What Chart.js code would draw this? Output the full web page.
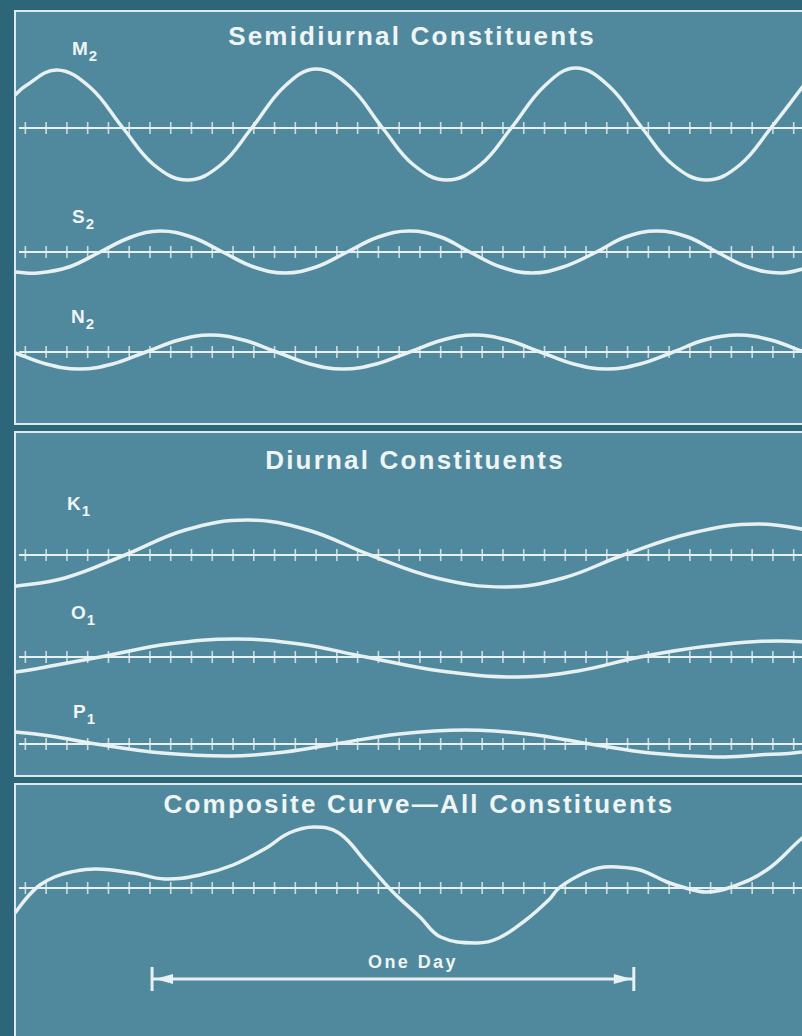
<!DOCTYPE html>
<html>
<head>
<meta charset="utf-8">
<script src="https://cdn.jsdelivr.net/npm/chart.js@4.4.1/dist/chart.umd.min.js"></script>
<style>
  body { margin: 0; width: 802px; height: 1036px; overflow: hidden; background: #2d6678; position: relative;
         font-family: "Liberation Sans", Arial, Helvetica, sans-serif; color: #eef5f4; }
  .panel { position: absolute; left: 14px; width: 830px; box-sizing: border-box; border: 2px solid #dde9ea; background: #50899d; }
  .box { position: absolute; left: 15px; width: 787px; }
  .title { position: absolute; font-weight: bold; font-size: 26px; line-height: 26px; letter-spacing: 2.2px;
           white-space: nowrap; transform: translateX(-50%); }
  .lab { position: absolute; font-weight: bold; font-size: 19px; line-height: 19px; white-space: nowrap; }
  .lab span { font-size: 15px; position: relative; top: 6px; margin-left: 1px; }
</style>
</head>
<body>
<div class="panel" style="top:10px;height:415px"></div>
<div class="panel" style="top:431px;height:346px"></div>
<div class="panel" style="top:783px;height:255px"></div>

<div class="title" style="left:412px;top:23px">Semidiurnal Constituents</div>
<div class="title" style="left:415px;top:447px">Diurnal Constituents</div>
<div class="title" style="left:419px;top:791px">Composite Curve—All Constituents</div>
<div class="title" style="left:413px;top:953px;font-size:18px;line-height:18px;letter-spacing:2.4px">One Day</div>

<div class="lab" style="left:72px;top:39px">M<span>2</span></div>
<div class="lab" style="left:72px;top:207px">S<span>2</span></div>
<div class="lab" style="left:71px;top:307px">N<span>2</span></div>
<div class="lab" style="left:67px;top:494px">K<span>1</span></div>
<div class="lab" style="left:71px;top:603px">O<span>1</span></div>
<div class="lab" style="left:73px;top:702px">P<span>1</span></div>

<div class="box" style="top:53px;height:150px"><canvas id="m2"></canvas></div>
<div class="box" style="top:177px;height:150px"><canvas id="s2"></canvas></div>
<div class="box" style="top:277px;height:150px"><canvas id="n2"></canvas></div>
<div class="box" style="top:480px;height:150px"><canvas id="k1"></canvas></div>
<div class="box" style="top:582px;height:150px"><canvas id="o1"></canvas></div>
<div class="box" style="top:669px;height:150px"><canvas id="p1"></canvas></div>
<div class="box" style="top:813px;height:185px"><canvas id="all"></canvas></div>

<script>
// time in hours, height in cm
const m2Hours = [-0.5, 0.0, 1.5, 3.1, 4.7, 6.2, 7.8, 9.4, 10.9, 12.5, 14.0, 15.6, 17.2, 18.7, 20.3, 21.9, 23.4, 25.0, 26.5, 28.1, 29.7, 31.2, 32.8, 34.4, 35.9, 37.5];
const m2Height = [33, 42, 58, 41, 0, -37, -52, -37, 0, 42, 59, 42, 0, -37, -52, -37, 0, 42, 60, 42, 0, -37, -52, -37, 0, 43];

const s2Hours = [-0.5, 0.6, 2.1, 3.6, 5.1, 6.5, 8.0, 9.5, 11.0, 12.5, 14.0, 15.5, 17.0, 18.5, 20.0, 21.4, 22.9, 24.4, 25.9, 27.5, 28.9, 30.4, 31.9, 33.3, 34.8, 36.4, 37.8];
const s2Height = [-20, -21, -15, 0, 15, 21, 15, 0, -15, -21, -15, 0, 15, 21, 15, 0, -15, -21, -15, 0, 15, 21, 15, 0, -15, -21, -15];

const n2Hours = [-0.6, 1.0, 2.6, 4.2, 5.8, 7.4, 8.9, 10.5, 12.1, 13.7, 15.3, 16.9, 18.5, 20.1, 21.6, 23.2, 24.8, 26.4, 28.0, 29.6, 31.2, 32.7, 34.3, 35.9, 37.5];
const n2Height = [0, -12, -17, -12, 0, 12, 17, 12, 0, -12, -17, -12, 0, 12, 17, 12, 0, -12, -17, -12, 0, 12, 17, 12, 0];

const k1Hours = [-0.7, 1.9, 4.8, 7.7, 10.7, 13.6, 16.6, 19.8, 23.1, 25.9, 28.8, 32.1, 35.3, 38.5];
const k1Height = [-32, -23, 0, 25, 35, 25, 0, -23, -32, -23, 0, 22, 31, 22];

const o1Hours = [-2.9, -0.5, 1.5, 3.6, 6.9, 10.1, 13.2, 16.4, 20.0, 23.7, 26.6, 29.6, 32.9, 36.3, 39.7];
const o1Height = [-19, -15, -8, 0, 13, 18, 13, 0, -14, -20, -14, 0, 11, 16, 11];

const p1Hours = [-1.7, -0.5, 1.2, 3.4, 6.6, 9.9, 12.5, 14.9, 18.0, 21.2, 24.2, 27.2, 30.1, 33.2, 35.3, 37.4, 39.2];
const p1Height = [13, 12, 8, 0, -9, -12, -8, 0, 10, 14, 10, 0, -9, -13, -11, -8, 0];

const allHours = [-0.5, 0.1, 0.7, 1.4, 2.2, 3.4, 5.2, 6.7, 8.4, 10.0, 11.6, 12.7, 13.9, 15.1, 16.4, 17.7, 19.0, 20.0, 21.7, 22.8, 24.1, 25.2, 25.7, 26.7, 27.6, 28.5, 29.6, 30.9, 31.8, 32.8, 34.0, 35.7, 37.3, 38.0];
const allHeight = [-25, -9, 3, 11, 16, 19, 15, 9, 13, 23, 40, 55, 61, 55, 26, -4, -29, -49, -55, -50, -32, -12, 0, 13, 20, 21, 18, 6, 0, -4, 1, 18, 48, 60];

// the "One Day" bar
const dayStart = 6.1;
const dayEnd = 29.3;
const dayLevel = -91;

const ink = '#e8f1f1';

const zeroLine = {
  id: 'zeroLine',
  beforeDatasetsDraw(chart) {
    const { ctx, chartArea, scales: { x, y } } = chart;
    const y0 = y.getPixelForValue(0);
    ctx.save();
    ctx.strokeStyle = ink;
    ctx.lineWidth = 2;
    ctx.beginPath();
    ctx.moveTo(chartArea.left + 4, y0);
    ctx.lineTo(chartArea.right, y0);
    ctx.stroke();
    ctx.lineWidth = 1.6;
    ctx.globalAlpha = 0.8;
    ctx.beginPath();
    for (let h = Math.ceil(x.min); h <= x.max; h++) {
      const px = x.getPixelForValue(h);
      ctx.moveTo(px, y0 - 6);
      ctx.lineTo(px, y0 + 6);
    }
    ctx.stroke();
    ctx.restore();
  }
};

const arrowHeads = {
  id: 'arrowHeads',
  afterDatasetsDraw(chart) {
    const { ctx, scales: { x, y } } = chart;
    const yy = y.getPixelForValue(dayLevel);
    const x1 = x.getPixelForValue(dayStart);
    const x2 = x.getPixelForValue(dayEnd);
    ctx.save();
    ctx.fillStyle = ink;
    ctx.beginPath();
    ctx.moveTo(x1 + 3, yy);
    ctx.lineTo(x1 + 21, yy - 5);
    ctx.lineTo(x1 + 21, yy + 5);
    ctx.closePath();
    ctx.moveTo(x2 - 2, yy);
    ctx.lineTo(x2 - 20, yy - 5);
    ctx.lineTo(x2 - 20, yy + 5);
    ctx.closePath();
    ctx.fill();
    ctx.restore();
  }
};

function curve(hours, heights) {
  return {
    data: hours.map((h, i) => ({ x: h, y: heights[i] })),
    borderColor: ink,
    borderWidth: 3.5,
    pointRadius: 0,
    tension: 0.4
  };
}

function makeChart(id, datasets, yMin, yMax, plugins) {
  return new Chart(document.getElementById(id), {
    type: 'line',
    data: { datasets: datasets },
    options: {
      responsive: true,
      maintainAspectRatio: false,
      animation: false,
      events: [],
      layout: { padding: 0, autoPadding: false },
      plugins: { legend: { display: false }, tooltip: { enabled: false } },
      scales: {
        x: { type: 'linear', min: -0.5, max: 37.4, display: false },
        y: { min: yMin, max: yMax, display: false }
      }
    },
    plugins: [zeroLine].concat(plugins || [])
  });
}

makeChart('m2', [curve(m2Hours, m2Height)], -75, 75);
makeChart('s2', [curve(s2Hours, s2Height)], -75, 75);
makeChart('n2', [curve(n2Hours, n2Height)], -75, 75);
makeChart('k1', [curve(k1Hours, k1Height)], -75, 75);
makeChart('o1', [curve(o1Hours, o1Height)], -75, 75);
makeChart('p1', [curve(p1Hours, p1Height)], -75, 75);

const dayBar = {
  data: [{ x: dayStart, y: dayLevel }, { x: dayEnd, y: dayLevel }],
  borderColor: ink,
  borderWidth: 3,
  pointStyle: 'line',
  pointRotation: 90,
  pointRadius: 12,
  pointBorderWidth: 3,
  pointBorderColor: ink
};
makeChart('all', [curve(allHours, allHeight), dayBar], -110, 75, [arrowHeads]);
</script>
</body>
</html>
